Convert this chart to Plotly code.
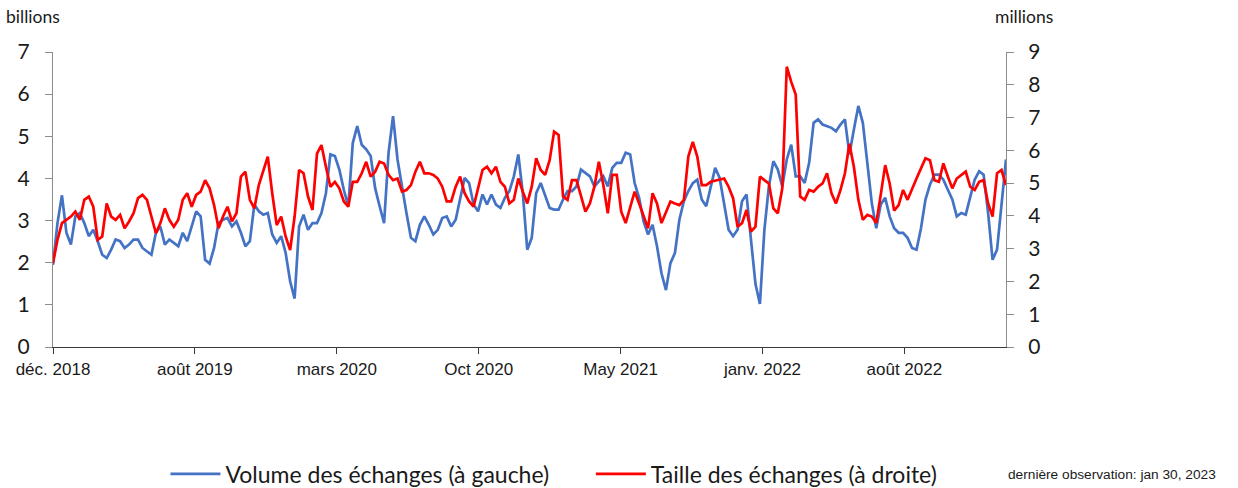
import pandas as pd
import plotly.graph_objects as go

# ---- data (weekly readings, left: billions, right: millions) ----
dates = pd.date_range("2018-12-31", periods=214, freq="7D")

volume = [
    1.95, 2.94, 3.60, 2.71, 2.43, 3.10, 3.18, 2.94, 2.63, 2.78,
    2.51, 2.19, 2.11, 2.31, 2.55, 2.51, 2.35, 2.43, 2.55, 2.55,
    2.35, 2.27, 2.19, 2.71, 2.86, 2.43, 2.55, 2.47, 2.39, 2.71,
    2.51, 2.86, 3.22, 3.10, 2.07, 1.98, 2.35, 2.94, 3.02, 3.06,
    2.86, 2.98, 2.71, 2.39, 2.51, 3.38, 3.22, 3.14, 3.18, 2.67,
    2.47, 2.63, 2.23, 1.56, 1.15, 2.86, 3.14, 2.78, 2.94, 2.94,
    3.18, 3.65, 4.57, 4.53, 4.21, 3.73, 3.34, 4.84, 5.24, 4.80,
    4.69, 4.53, 3.77, 3.34, 2.94, 4.61, 5.48, 4.45, 3.77, 3.18,
    2.59, 2.51, 2.90, 3.10, 2.90, 2.67, 2.78, 3.06, 3.10, 2.86,
    3.02, 3.50, 4.01, 3.89, 3.38, 3.22, 3.62, 3.38, 3.62, 3.38,
    3.30, 3.54, 3.70, 4.05, 4.57, 3.65, 2.31, 2.59, 3.65, 3.89,
    3.58, 3.30, 3.26, 3.26, 3.50, 3.70, 3.70, 3.81, 4.21, 4.13,
    4.05, 3.81, 3.93, 4.05, 3.81, 4.25, 4.37, 4.37, 4.61, 4.57,
    3.89, 3.54, 2.98, 2.67, 2.90, 2.39, 1.75, 1.35, 1.99, 2.23,
    3.02, 3.46, 3.70, 3.89, 3.97, 3.50, 3.34, 3.77, 4.25, 4.01,
    3.42, 2.78, 2.63, 2.78, 3.46, 3.62, 2.55, 1.50, 1.02, 2.78,
    3.81, 4.41, 4.21, 3.81, 4.45, 4.80, 4.05, 4.05, 3.89, 4.37,
    5.32, 5.40, 5.28, 5.24, 5.20, 5.12, 5.28, 5.40, 4.57, 5.16,
    5.72, 5.32, 4.33, 3.42, 2.82, 3.38, 3.54, 3.10, 2.82, 2.71,
    2.71, 2.59, 2.35, 2.31, 2.82, 3.50, 3.85, 4.09, 4.09, 3.97,
    3.73, 3.50, 3.10, 3.18, 3.14, 3.58, 3.97, 4.17, 4.09, 3.18,
    2.07, 2.31, 3.34, 4.45,
]

taille = [
    2.56, 3.27, 3.78, 3.88, 3.98, 4.13, 3.88, 4.49, 4.59, 4.28,
    3.27, 3.37, 4.38, 3.98, 3.88, 4.03, 3.62, 3.83, 4.08, 4.54,
    4.64, 4.49, 3.98, 3.47, 3.78, 4.23, 3.88, 3.67, 3.88, 4.49,
    4.69, 4.28, 4.64, 4.74, 5.09, 4.84, 4.33, 3.62, 3.98, 4.28,
    3.83, 4.08, 5.20, 5.35, 4.49, 4.23, 4.94, 5.35, 5.81, 4.69,
    3.72, 3.98, 3.37, 2.96, 3.98, 5.40, 5.30, 4.59, 4.18, 5.90,
    6.16, 5.50, 4.89, 5.04, 4.84, 4.44, 4.28, 5.04, 5.04, 5.30,
    5.65, 5.20, 5.35, 5.65, 5.60, 5.25, 5.09, 5.14, 4.74, 4.79,
    4.94, 5.35, 5.65, 5.30, 5.30, 5.25, 5.14, 4.89, 4.44, 4.44,
    4.89, 5.20, 4.69, 4.44, 4.28, 4.84, 5.40, 5.50, 5.30, 5.50,
    5.04, 4.89, 4.38, 4.49, 5.14, 4.74, 4.38, 4.89, 5.76, 5.40,
    5.25, 5.70, 6.57, 6.47, 4.59, 4.49, 5.09, 5.09, 4.64, 4.13,
    4.38, 4.89, 5.65, 4.94, 4.08, 5.25, 5.25, 4.13, 3.78, 4.28,
    4.74, 4.38, 3.98, 3.62, 4.69, 4.38, 3.78, 4.13, 4.44, 4.38,
    4.33, 4.49, 5.81, 6.26, 5.81, 4.94, 4.94, 5.04, 5.07, 5.09,
    5.14, 4.89, 4.54, 3.67, 3.78, 4.18, 3.52, 3.67, 5.20, 5.09,
    4.99, 4.23, 4.08, 4.84, 8.55, 8.09, 7.70, 4.59, 4.49, 4.79,
    4.74, 4.89, 4.99, 5.30, 4.69, 4.38, 4.79, 5.30, 6.20, 5.50,
    4.49, 3.88, 4.03, 3.98, 3.78, 4.64, 5.55, 4.99, 4.16, 4.33,
    4.79, 4.49, 4.84, 5.14, 5.45, 5.76, 5.70, 5.09, 5.04, 5.60,
    5.20, 4.84, 5.14, 5.25, 5.35, 4.89, 4.79, 5.04, 5.09, 4.38,
    3.98, 5.30, 5.40, 4.94,
]

tick_labels = ["déc. 2018", "août 2019", "mars 2020", "Oct 2020",
               "May 2021", "janv. 2022", "août 2022"]
tick_dates = pd.date_range("2018-12-31", periods=len(tick_labels), freq="222D")

left_ticks = list(range(0, 8))
right_ticks = list(range(0, 10))

# ---- figure ----
TXT = "#1a1a1a"
NARROW = "Liberation Sans, Arial"
HUMAN = "Lato, Calibri, Carlito, sans-serif"

fig = go.Figure()
fig.add_trace(go.Scatter(
    x=dates, y=volume, mode="lines", yaxis="y", legend="legend",
    name="Volume des échanges (à gauche)",
    line=dict(color="#4472C4", width=2.7),
))
fig.add_trace(go.Scatter(
    x=dates, y=taille, mode="lines", yaxis="y2", legend="legend2",
    name="Taille des échanges (à droite)",
    line=dict(color="#FF0000", width=2.7),
))

legend_common = dict(
    orientation="h", yanchor="middle", y=-0.43, xanchor="left",
    font=dict(family=HUMAN, size=23, color=TXT),
    itemwidth=50, bgcolor="rgba(0,0,0,0)",
)

fig.update_layout(
    width=1238, height=488,
    margin=dict(l=53, r=232, t=52, b=141, autoexpand=False),
    paper_bgcolor="white", plot_bgcolor="white",
    showlegend=True,
    legend=dict(x=0.118, **legend_common),
    legend2=dict(x=0.5644, **legend_common),
    xaxis=dict(
        type="date", range=[dates[0], dates[-1]],
        tickmode="array", tickvals=tick_dates, ticktext=tick_labels,
        ticks="outside", ticklen=6, tickcolor="#3a3a3a", tickwidth=1,
        showline=True, linecolor="#3a3a3a", linewidth=1.3,
        showgrid=False, zeroline=False,
        tickfont=dict(family=NARROW, size=17, color=TXT),
        ticklabelstandoff=0,
    ),
    yaxis=dict(
        range=[0, 7], tickmode="array", tickvals=left_ticks,
        ticks="outside", ticklen=7, tickcolor="#8c8c8c",
        showline=True, linecolor="#8c8c8c", linewidth=1.3,
        showgrid=False, zeroline=False,
        tickfont=dict(family=HUMAN, size=21, color=TXT),
        ticklabelstandoff=11,
    ),
    yaxis2=dict(
        range=[0, 9], tickmode="array", tickvals=right_ticks,
        overlaying="y", side="right", anchor="x",
        ticks="outside", ticklen=7, tickcolor="#8c8c8c",
        showline=True, linecolor="#8c8c8c", linewidth=1.3,
        showgrid=False, zeroline=False,
        tickfont=dict(family=HUMAN, size=21, color=TXT),
        ticklabelstandoff=10,
    ),
    annotations=[
        dict(text="billions", xref="paper", yref="paper", x=-0.0515, y=1.122,
             xanchor="left", yanchor="middle", showarrow=False,
             font=dict(family=HUMAN, size=17.5, color=TXT)),
        dict(text="millions", xref="paper", yref="paper", x=0.9866, y=1.119,
             xanchor="left", yanchor="middle", showarrow=False,
             font=dict(family=HUMAN, size=17.5, color=TXT)),
        dict(text="dernière observation: jan 30, 2023", xref="paper", yref="paper",
             x=1.0005, y=-0.432, xanchor="left", yanchor="middle", showarrow=False,
             font=dict(family=NARROW, size=13.7, color=TXT)),
    ],
)

fig.write_html("out.html", config={"displayModeBar": False},
               post_script="document.body.style.margin='0';")
